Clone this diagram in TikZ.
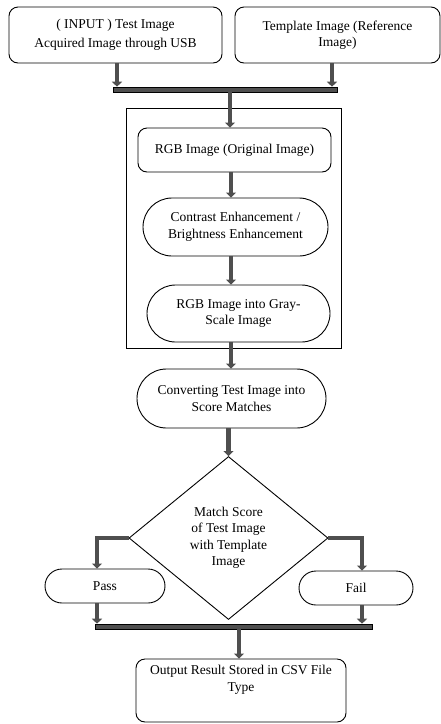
\documentclass[tikz,border=0pt]{standalone}
\usepackage{fontspec}
\setmainfont{Liberation Serif}
\usetikzlibrary{shapes.geometric,shapes.misc,arrows.meta}
\definecolor{arrowgray}{HTML}{4F4F4F}

\begin{document}
\begin{tikzpicture}[x=1pt, y=-1pt, line width=0.9pt,
    font=\fontsize{13.5}{16.5}\selectfont,
    box node/.style={rectangle, rounded corners=9pt, draw, align=center, inner sep=2pt},
    round node/.style={rounded rectangle, draw, align=center, inner sep=2pt},
    bar node/.style={rectangle, draw=black, fill=arrowgray, line width=0.6pt, inner sep=0pt, minimum height=5pt},
    arr/.style={draw=arrowgray, line width=4.5pt, line join=miter, -{Triangle[width=10pt,length=5pt]}}]
    \useasboundingbox (0,0) rectangle (441,724);
    % inputs
    \node[box node, minimum width=213pt, minimum height=56pt] (input) at (115.5,35) {( INPUT ) Test Image\\[2pt] Acquired Image through USB};
    \node[box node, minimum width=205pt, minimum height=56pt] (templ) at (337.5,35) {Template Image (Reference\\ Image)};
    \node[bar node, minimum width=224pt] (bar1) at (225,89.5) {};
    % preprocessing block
    \node[draw, minimum width=215pt, minimum height=240pt] (stage) at (233.5,228) {};
    \node[box node, minimum width=193pt, minimum height=44pt] (rgb) at (234.5,150) {RGB Image (Original Image)};
    \node[round node, minimum width=189pt, minimum height=58pt] (contrast) at (235.5,227) {Contrast Enhancement /\\ Brightness Enhancement};
    \node[round node, minimum width=187pt, minimum height=57pt] (gray) at (238.5,313.5) {RGB Image into Gray-\\ Scale Image};
    % matching
    \node[round node, minimum width=193pt, minimum height=59pt] (convert) at (231.5,398.5) {Converting Test Image into\\ Score Matches};
    \node[diamond, draw, minimum width=199pt, minimum height=163pt, inner sep=0pt, align=center] (match) at (228.5,538) {Match Score\\ of Test Image\\ with Template\\ Image};
    \node[round node, minimum width=124pt, minimum height=34pt] (pass) at (105,586) {Pass};
    \node[round node, minimum width=118pt, minimum height=34pt] (fail) at (356,588) {Fail};
    \node[bar node, minimum width=277pt] (bar2) at (233.5,626.5) {};
    \node[box node, minimum width=210pt, minimum height=63pt] (output) at (241,690.5) {Output Result Stored in CSV File\\ Type\\[8pt]};

    \draw[arr] ([xshift=1.5pt]input.south) -- ([xshift=1.5pt]input.south |- bar1.north);
    \draw[arr] ([xshift=-5.5pt]templ.south) -- ([xshift=-5.5pt]templ.south |- bar1.north);
    \draw[arr] (bar1.south -| 230,0) -- (rgb.north -| 230,0);
    \draw[arr] ([xshift=-3.5pt]rgb.south) -- ([xshift=-3.5pt]rgb.south |- contrast.north);
    \draw[arr] ([xshift=-4.5pt]contrast.south) -- ([xshift=-4.5pt]contrast.south |- gray.north);
    \draw[arr] (gray.south -| 231,0) -- (convert.north -| 231,0);
    \draw[arr] (convert.south -| match.north) -- (match.north);
    \draw[arr] (match.west) -| ([xshift=-8pt]pass.north);
    \draw[arr] (match.east) -| ([xshift=6pt]fail.north);
    \draw[arr] ([xshift=-8pt]pass.south) -- ([xshift=-8pt]pass.south |- bar2.north);
    \draw[arr] ([xshift=6pt]fail.south) -- ([xshift=6pt]fail.south |- bar2.north);
    \draw[arr] (bar2.south -| 239,0) -- (output.north -| 239,0);
\end{tikzpicture}
\end{document}
